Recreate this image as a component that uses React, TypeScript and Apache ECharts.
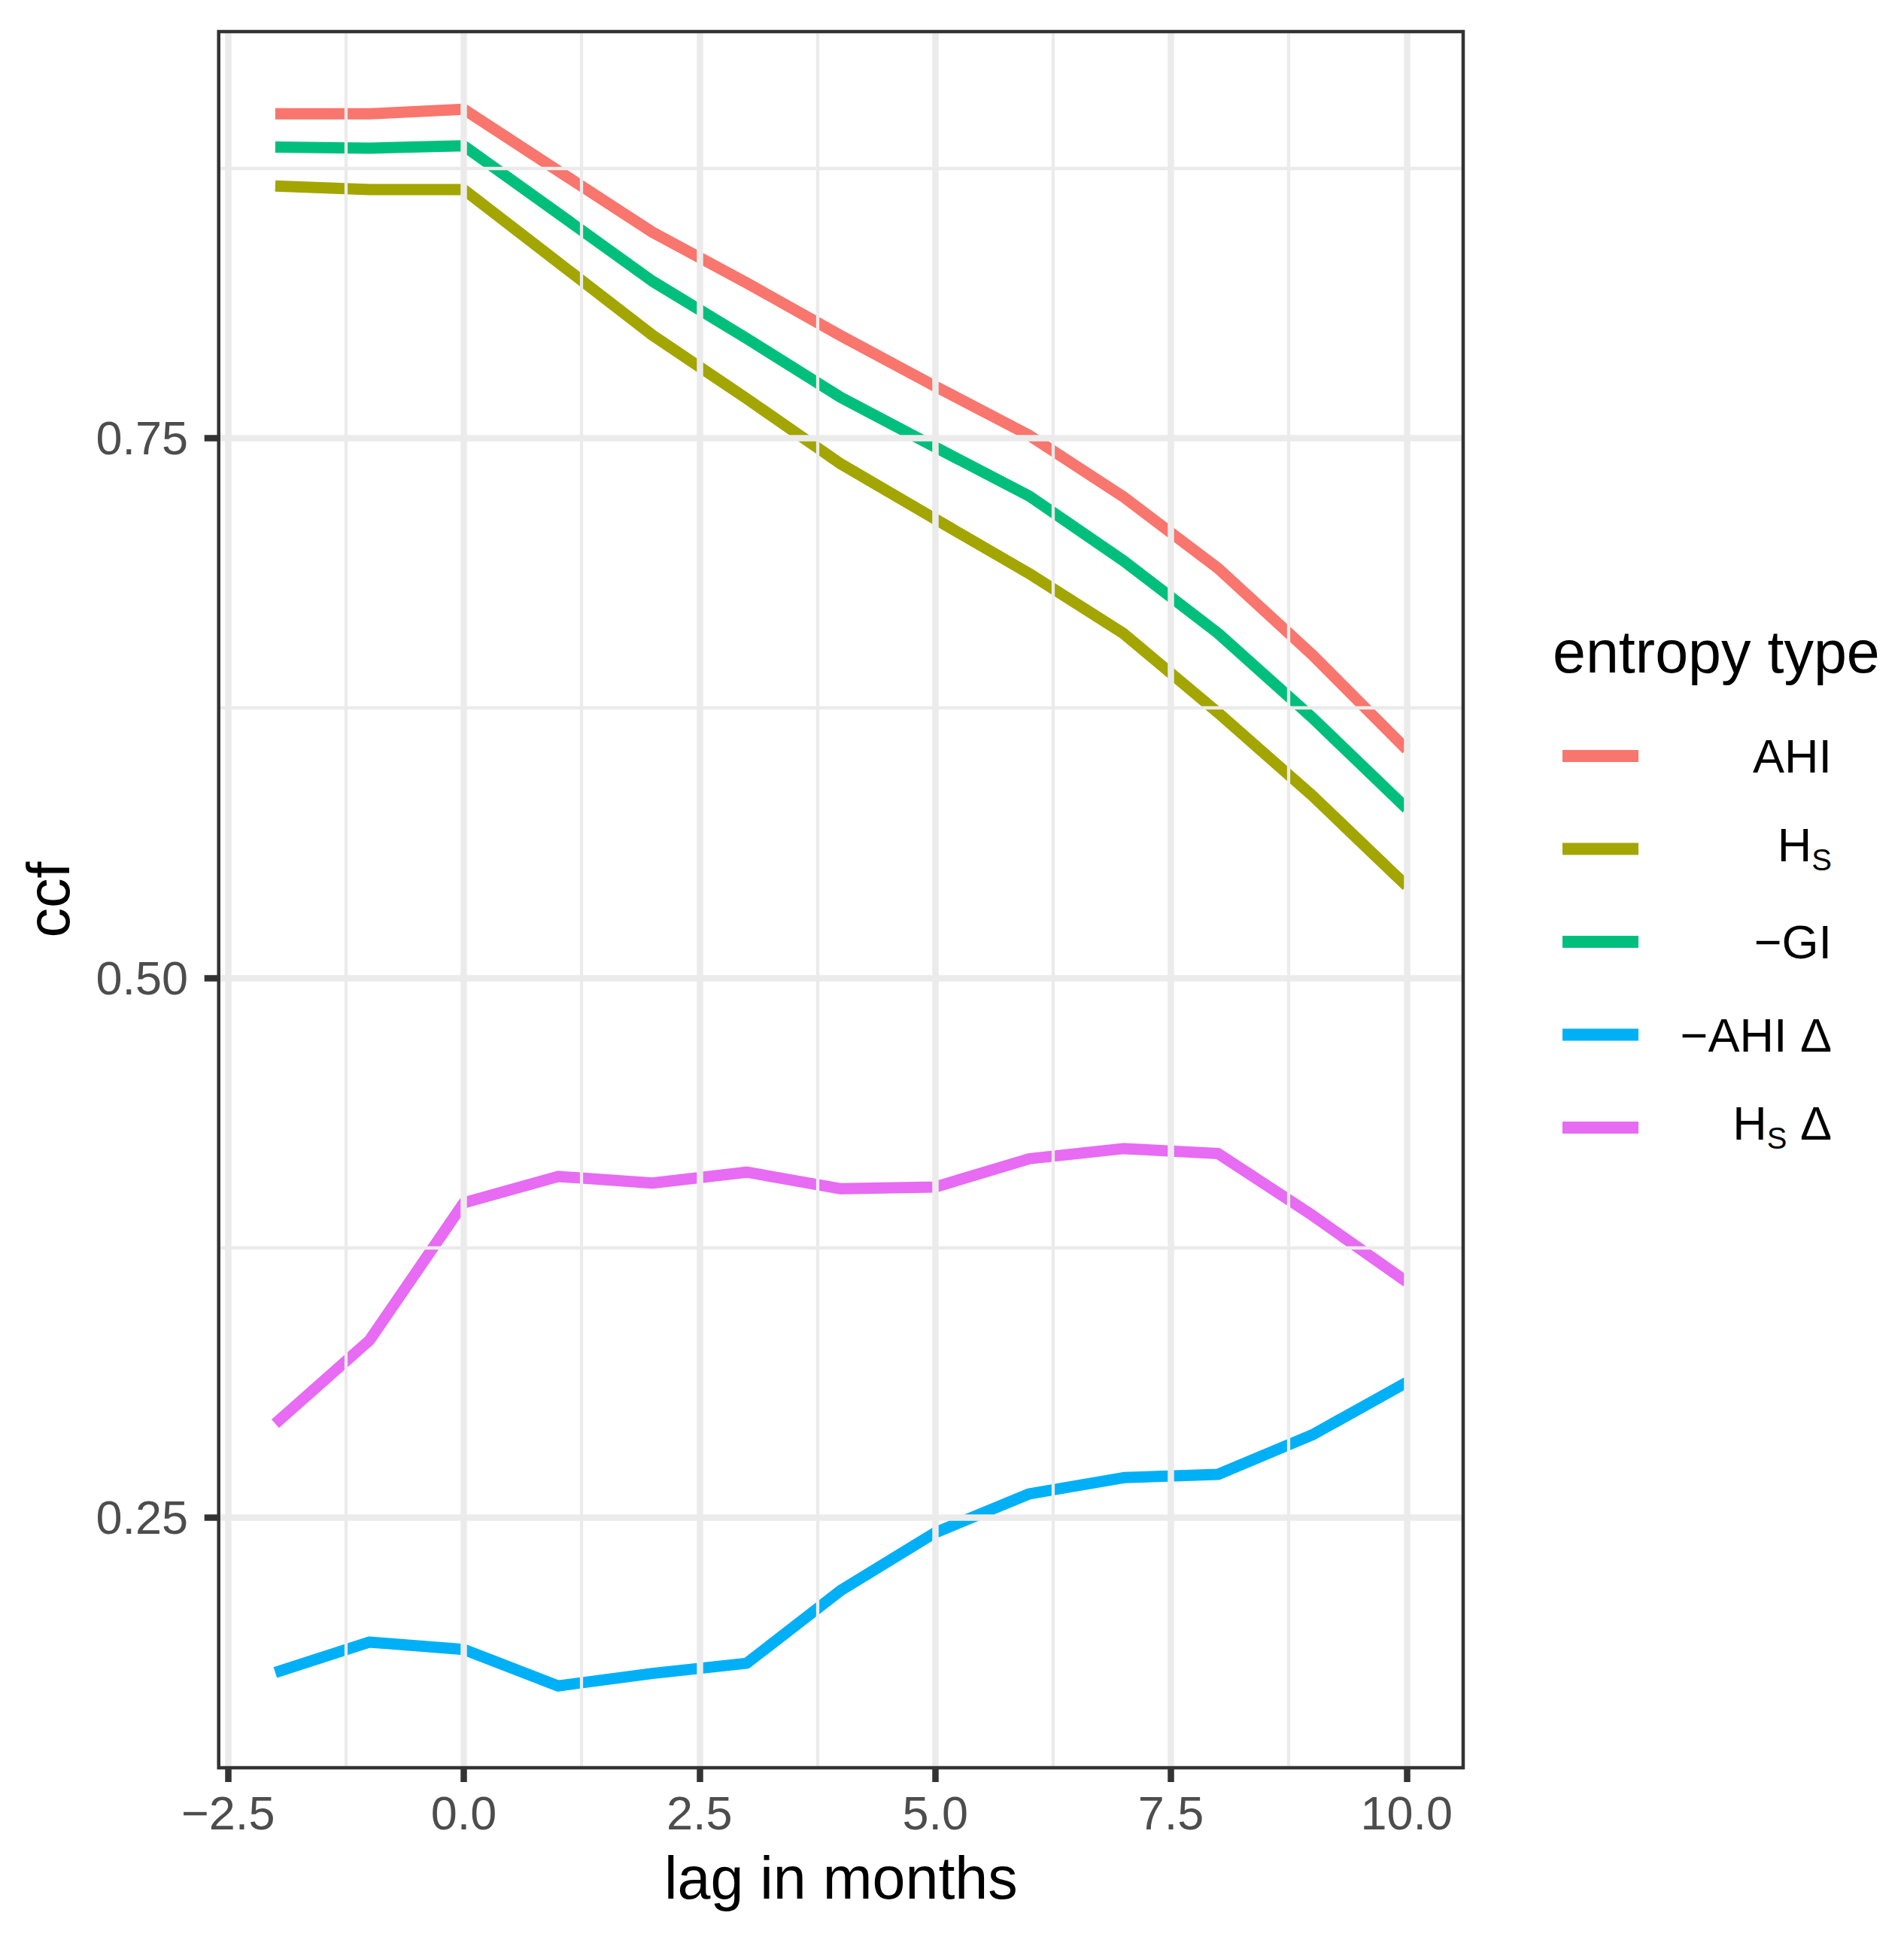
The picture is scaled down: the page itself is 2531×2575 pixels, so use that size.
import React, { useEffect, useRef } from "react";
import * as echarts from "echarts";

// ---- data ----
const lags = [-2, -1, 0, 1, 2, 3, 4, 5, 6, 7, 8, 9, 10];
const ahi = [0.9002, 0.9002, 0.9023, 0.8738, 0.8454, 0.8219, 0.7974, 0.774, 0.7512, 0.7227, 0.6897, 0.6496, 0.6058];
const hS = [0.8668, 0.8651, 0.8651, 0.8314, 0.7977, 0.7683, 0.738, 0.7125, 0.6872, 0.6594, 0.6228, 0.5844, 0.5426];
const negGI = [0.8848, 0.8843, 0.8854, 0.8541, 0.8227, 0.7962, 0.7688, 0.7458, 0.7231, 0.6931, 0.6596, 0.6205, 0.5785];
const negAhiDelta = [0.1782, 0.1923, 0.1889, 0.172, 0.1778, 0.1825, 0.2163, 0.243, 0.261, 0.2685, 0.27, 0.2883, 0.3126];
const hSDelta = [0.2935, 0.3321, 0.3958, 0.408, 0.4049, 0.41, 0.4023, 0.4031, 0.4162, 0.4209, 0.4186, 0.39, 0.3592];

const seriesNames = ["AHI", "HS", "−GI", "−AHI Δ", "HS Δ"];
const seriesValues = [ahi, hS, negGI, negAhiDelta, hSDelta];
const seriesColors = ["#F8766D", "#A3A500", "#00BF7D", "#00B0F6", "#E76BF3"];
const legendRich: Record<string, string> = {
  "AHI": "{m|AHI}",
  "HS": "{h|H}{s|S}",
  "−GI": "{m|−GI}",
  "−AHI Δ": "{m|−AHI Δ}",
  "HS Δ": "{h|H}{s|S}{h| Δ}",
};

const xTicks = [-2.5, 0, 2.5, 5, 7.5, 10];
const xMinor = [-1.25, 1.25, 3.75, 6.25, 8.75];
const yTicks = [0.25, 0.5, 0.75];
const yMinor = [0.375, 0.625, 0.875];
const xRange = [-2.6, 10.6];
const yRange = [0.1341, 0.9383];

const FONT = "Liberation Sans, Arial, sans-serif";

export default function App() {
  const ref = useRef<HTMLDivElement>(null);
  useEffect(() => {
    if (!ref.current) return;
    const chart = echarts.init(ref.current, undefined, { renderer: "svg" });
    const gridLines: any[] = [];
    xTicks.forEach((v) => gridLines.push({ xAxis: v, lineStyle: { color: "#EBEBEB", width: 8.5, type: "solid" } }));
    xMinor.forEach((v) => gridLines.push({ xAxis: v, lineStyle: { color: "#EBEBEB", width: 4.3, type: "solid" } }));
    yTicks.forEach((v) => gridLines.push({ yAxis: v, lineStyle: { color: "#EBEBEB", width: 8.5, type: "solid" } }));
    yMinor.forEach((v) => gridLines.push({ yAxis: v, lineStyle: { color: "#EBEBEB", width: 4.3, type: "solid" } }));

    const fmtMinus = (s: string) => s.replace("-", "\u2212");

    chart.setOption({
      animation: false,
      backgroundColor: "#FFFFFF",
      grid: {
        left: 290.7,
        top: 42,
        width: 1654.3,
        height: 2308,
        show: true,
        z: 10,
        backgroundColor: "transparent",
        borderColor: "#333333",
        borderWidth: 4.5,
      },
      xAxis: {
        type: "value",
        min: xRange[0],
        max: xRange[1],
        name: "lag in months",
        nameLocation: "middle",
        nameGap: 106.5,
        nameTextStyle: { fontSize: 79, color: "#000000", fontFamily: FONT },
        axisLine: { show: false, onZero: false },
        splitLine: { show: false },
        axisTick: { show: true, customValues: xTicks, length: 19, lineStyle: { color: "#333333", width: 8.5 } },
        axisLabel: {
          customValues: xTicks,
          formatter: (v: number) => fmtMinus(v.toFixed(1)),
          fontSize: 63,
          color: "#4D4D4D",
          fontFamily: FONT,
          margin: 60,
          verticalAlign: "middle",
        },
      },
      yAxis: {
        type: "value",
        min: yRange[0],
        max: yRange[1],
        name: "ccf",
        nameLocation: "middle",
        nameGap: 187,
        nameTextStyle: { fontSize: 79, color: "#000000", fontFamily: FONT },
        axisLine: { show: false, onZero: false },
        splitLine: { show: false },
        axisTick: { show: true, customValues: yTicks, length: 19, lineStyle: { color: "#333333", width: 8.5 } },
        axisLabel: {
          customValues: yTicks,
          formatter: (v: number) => v.toFixed(2),
          fontSize: 63,
          color: "#4D4D4D",
          fontFamily: FONT,
          margin: 40.7,
        },
      },
      legend: {
        orient: "vertical",
        left: 2077,
        top: 960,
        padding: 0,
        icon: "rect",
        itemWidth: 101,
        itemHeight: 16,
        itemGap: 33.5,
        itemStyle: { borderWidth: 0 },
        selectedMode: false,
        data: seriesNames,
        formatter: (name: string) => legendRich[name] || name,
        textStyle: {
          width: 252,
          height: 90,
          backgroundColor: "rgba(255,255,255,0)",
          fontFamily: FONT,
          color: "#000000",
          rich: {
            m: { fontSize: 63, lineHeight: 90, fontFamily: FONT, color: "#000000", align: "right", verticalAlign: "middle" },
            h: { fontSize: 63, lineHeight: 90, fontFamily: FONT, color: "#000000", align: "right", verticalAlign: "middle", padding: [0, 0, 12, 0] },
            s: { fontSize: 40, lineHeight: 90, fontFamily: FONT, color: "#000000", align: "right", verticalAlign: "bottom", padding: [0, 0, 11, 0] },
          },
        },
      },
      graphic: [
        {
          type: "text",
          x: 2064,
          y: 866,
          style: { text: "entropy type", fontSize: 79, fontFamily: FONT, fill: "#000000", align: "left", verticalAlign: "middle" },
        },
      ],
      series: [
        {
          type: "line",
          name: "grid",
          data: [],
          z: 1,
          silent: true,
          markLine: {
            silent: true,
            precision: 6,
            symbol: ["none", "none"],
            label: { show: false },
            animation: false,
            data: gridLines,
          },
        },
        ...seriesNames.map((name, i) => ({
          type: "line",
          name,
          z: 3,
          symbol: "none",
          showSymbol: false,
          color: seriesColors[i],
          itemStyle: { color: seriesColors[i] },
          lineStyle: { color: seriesColors[i], width: 15, cap: "butt", join: "round" },
          data: lags.map((x, j) => [x, seriesValues[i][j]]),
        })),
      ],
    });
    return () => chart.dispose();
  }, []);
  return <div ref={ref} style={{ position: "absolute", left: 0, top: 0, width: 2531, height: 2575 }} />;
}
